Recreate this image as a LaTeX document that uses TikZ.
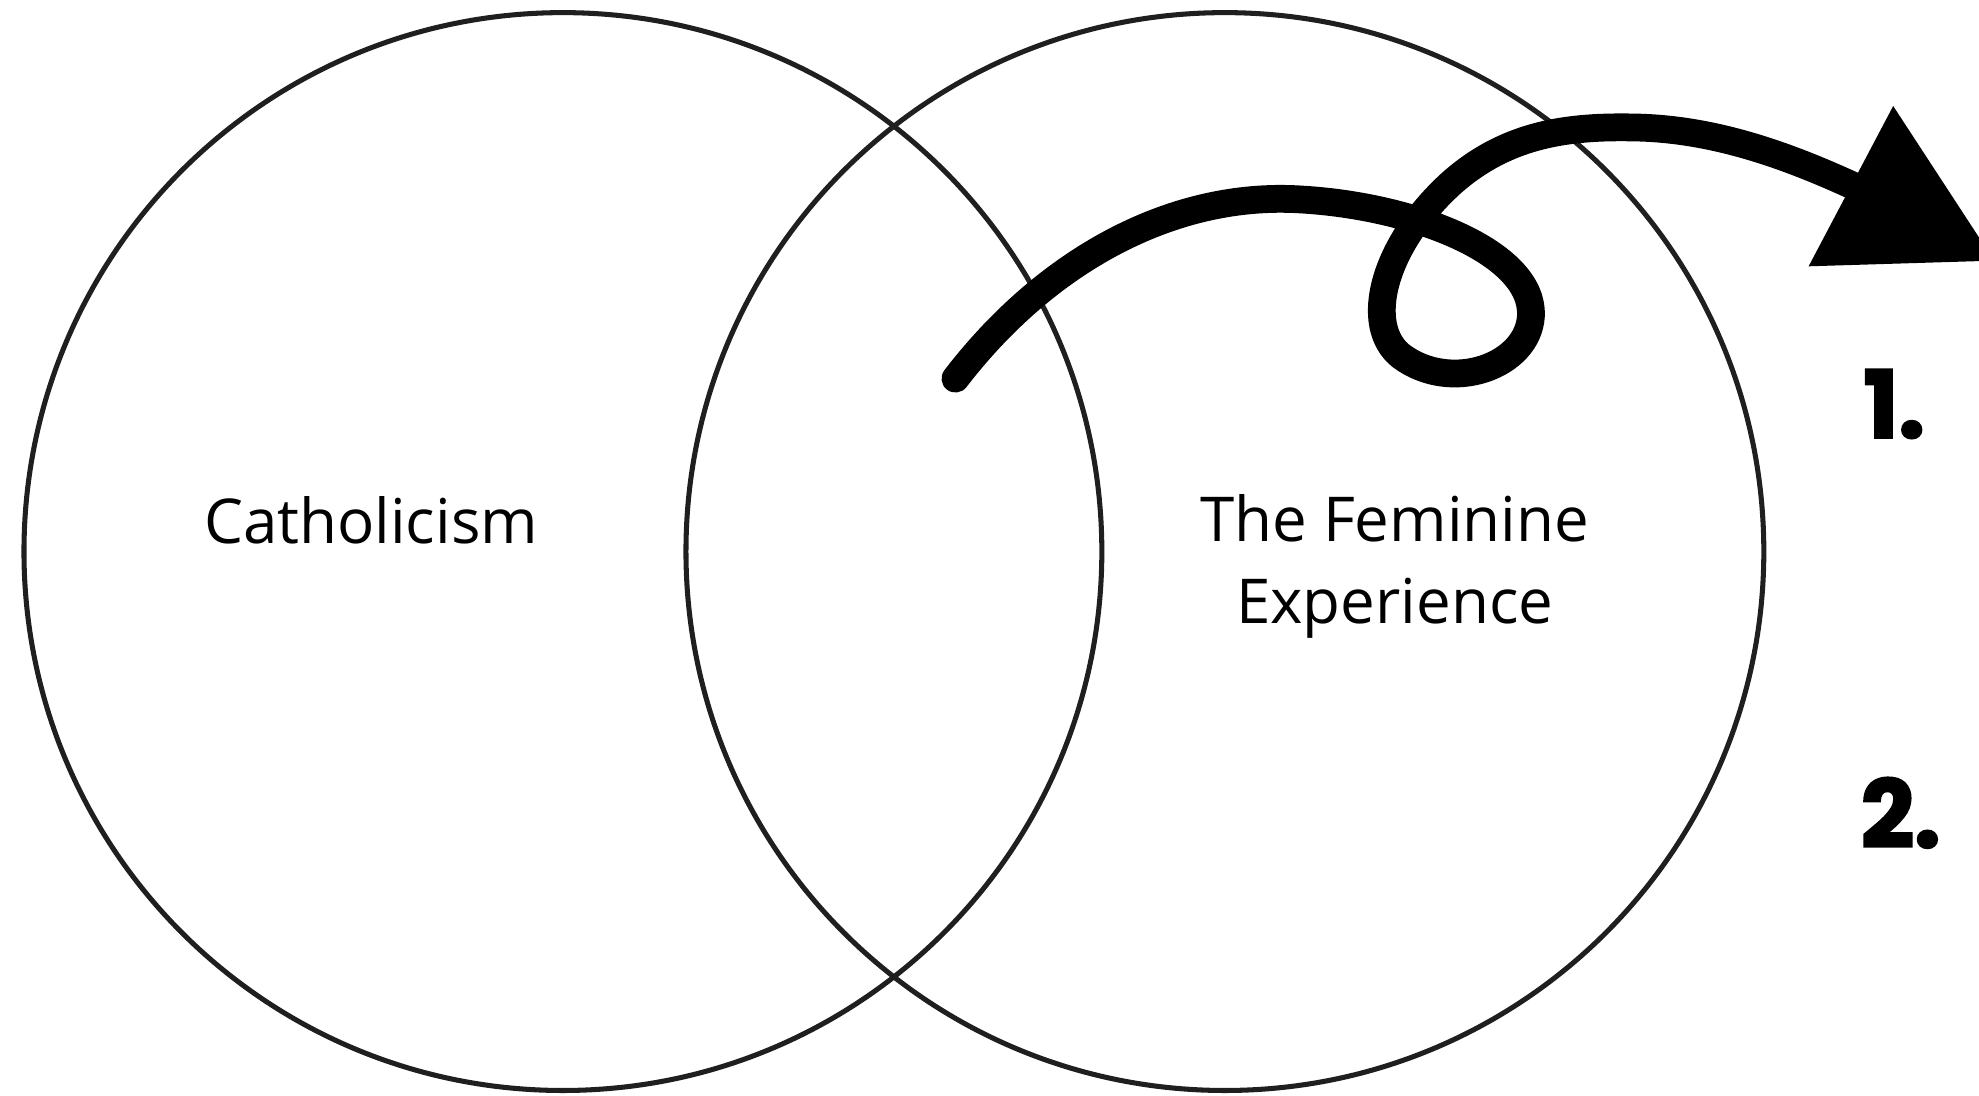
\documentclass[tikz,border=0pt]{standalone}
\usepackage{fontspec}
\setmainfont{Open Sans}
\newfontfamily\heavyfont{Poppins}[FakeBold=2.5]
\begin{document}
\begin{tikzpicture}[x=0.5pt,y=-0.5pt,
  venn/.style={circle, draw=black!88, line width=2pt, minimum size=427pt, inner sep=0pt},
  lbl/.style={font=\fontsize{24.5}{32.5}\selectfont, align=center, inner sep=0pt},
  num/.style={font=\heavyfont\bfseries\fontsize{37}{40}\selectfont, inner sep=0pt, anchor=west},
  squiggle/.style={line width=11pt, line cap=round, line join=round}]
\useasboundingbox (0,0) rectangle (1568,868);
\clip (0,0) rectangle (1568,868);
\node[venn] (left) at (446,437) {};
\node[venn] (right) at (970.5,437) {};
\node[lbl] (cath) at (294,412) {Catholicism};
\node[lbl] (fem) at (1105,449) {The Feminine\\Experience};
\node[num] (one) at (1476,320) {1.};
\node[num] (two) at (1474,644) {2.};
\coordinate (start) at (757,300);
\coordinate (tip) at (1470,148);
\draw[squiggle] (start) .. controls (830,205) and (930,152) .. (1030,158)
  .. controls (1120,163) and (1215,200) .. (1213,250)
  .. controls (1211,290) and (1150,312) .. (1110,282)
  .. controls (1080,258) and (1095,195) .. (1150,145)
  .. controls (1195,105) and (1245,100) .. (1295,101)
  .. controls (1360,102) and (1420,125) .. (tip);
\fill (1500,84) -- (1433,211) -- (1580,206.5) -- cycle;
\end{tikzpicture}
\end{document}
